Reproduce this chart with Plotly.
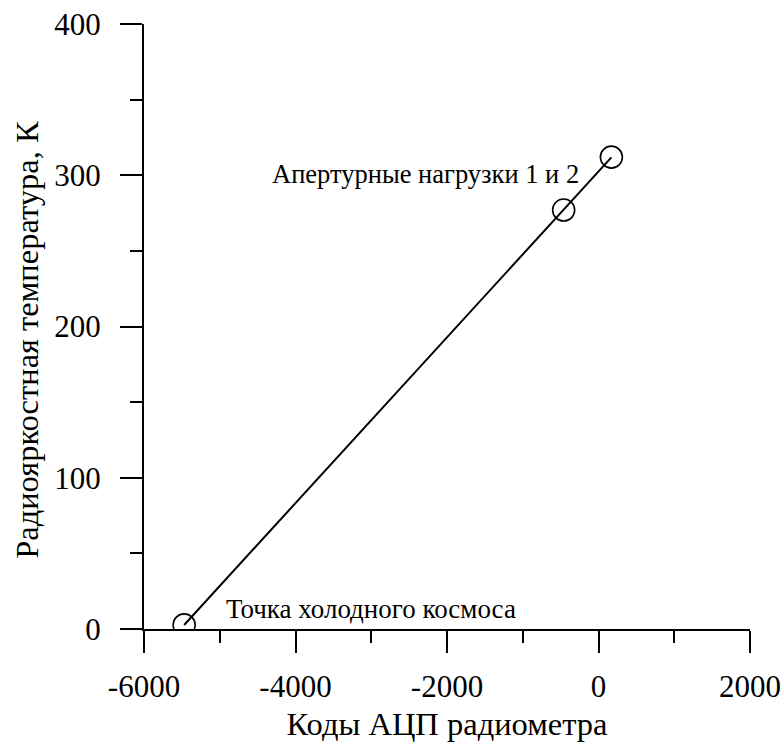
import plotly.graph_objects as go
import numpy as np

# Data
adc_codes = [-5470, -460, 170]          # коды АЦП
tb_values = [2.7, 277, 312]             # радиояркостная температура, K
point_labels = ["Точка холодного космоса", "Апертурные нагрузки 1 и 2"]

x_ticks = [-6000, -4000, -2000, 0, 2000]
y_ticks = [0, 100, 200, 300, 400]

x_title = "Коды АЦП радиометра"
y_title = "Радиояркостная температура, К"

# linear calibration fit through the points
k, b = np.polyfit(adc_codes, tb_values, 1)
line_x = [adc_codes[0], adc_codes[-1]]
line_y = [k * v + b for v in line_x]

FONT = "Liberation Serif"

fig = go.Figure()
fig.add_trace(go.Scatter(x=line_x, y=line_y, mode="lines",
                         line=dict(color="black", width=2), showlegend=False,
                         hoverinfo="skip"))
fig.add_trace(go.Scatter(x=adc_codes, y=tb_values, mode="markers",
                         marker=dict(symbol="circle-open", size=22,
                                     color="black", line=dict(width=1.6)),
                         showlegend=False))

fig.add_annotation(x=-4940, y=13, xref="x", yref="y", text=point_labels[0],
                   showarrow=False, xanchor="left", yanchor="middle",
                   font=dict(family=FONT, size=27, color="black"))
fig.add_annotation(x=-4335, y=301, xref="x", yref="y", text=point_labels[1],
                   showarrow=False, xanchor="left", yanchor="middle",
                   font=dict(family=FONT, size=26.5, color="black"))

# y-axis title placed as rotated annotation (offset downward as in reference)
fig.add_annotation(x=-0.193, y=0.478, xref="paper", yref="paper",
                   text=y_title, textangle=-90, showarrow=False,
                   xanchor="center", yanchor="middle",
                   font=dict(family=FONT, size=32.5, color="black"))

axis_common = dict(showgrid=False, zeroline=False, showline=True,
                   linecolor="black", linewidth=2, ticks="outside",
                   tickcolor="black", tickwidth=2, ticklen=22,
                   automargin=False,
                   tickfont=dict(family=FONT, size=31, color="black"))

fig.update_xaxes(range=[-6000, 2000], tickvals=x_ticks,
                 ticktext=[str(v) for v in x_ticks],
                 minor=dict(ticks="outside", dtick=1000, ticklen=12,
                            tickwidth=2, tickcolor="black"),
                 title=dict(text=x_title,
                            font=dict(family=FONT, size=32.5, color="black"),
                            standoff=9),
                 ticklabelstandoff=7,
                 **axis_common)
fig.update_yaxes(range=[0, 400], tickvals=y_ticks,
                 minor=dict(ticks="outside", dtick=50, ticklen=12,
                            tickwidth=2, tickcolor="black"),
                 ticklabelstandoff=13,
                 **axis_common)

fig.update_layout(width=784, height=742, plot_bgcolor="white",
                  paper_bgcolor="white",
                  margin=dict(l=144, r=34, t=24, b=113))

fig.write_html("out.html")
